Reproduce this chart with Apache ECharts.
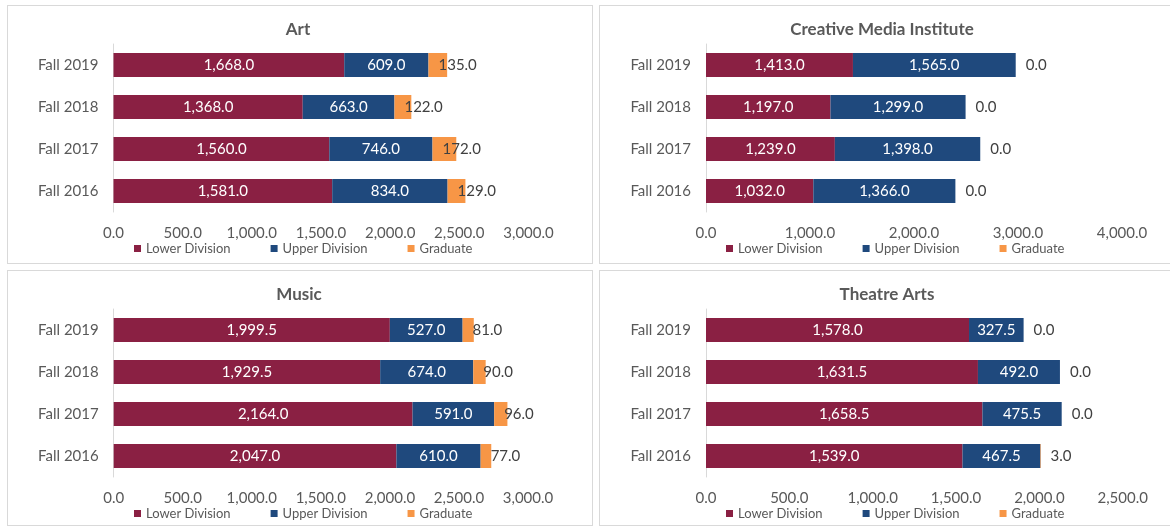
<!DOCTYPE html>
<html>
<head>
<meta charset="utf-8">
<script src="https://cdn.jsdelivr.net/npm/echarts@6/dist/echarts.min.js"></script>
<style>
  html, body { margin: 0; padding: 0; background: #ffffff; width: 1170px; height: 527px; overflow: hidden; }
  .panel { position: absolute; box-sizing: border-box; border: 1px solid #D9D9D9; background: #fff; }
  .panel > div { width: 100%; height: 100%; }
</style>
</head>
<body>
<div class="panel" id="p-art" style="left:7px;top:5px;width:586px;height:259px;"><div id="c-art"></div></div>
<div class="panel" id="p-cmi" style="left:599px;top:5px;width:586px;height:259px;"><div id="c-cmi"></div></div>
<div class="panel" id="p-music" style="left:7px;top:270px;width:586px;height:256px;"><div id="c-music"></div></div>
<div class="panel" id="p-theatre" style="left:599px;top:270px;width:586px;height:256px;"><div id="c-theatre"></div></div>
<script>
// Enrollment by term and level, per department
const categories = ['Fall 2016', 'Fall 2017', 'Fall 2018', 'Fall 2019'];
const seriesNames = ['Lower Division', 'Upper Division', 'Graduate'];

const artLower = [1581, 1560, 1368, 1668];
const artUpper = [834, 746, 663, 609];
const artGrad = [129, 172, 122, 135];

const cmiLower = [1032, 1239, 1197, 1413];
const cmiUpper = [1366, 1398, 1299, 1565];
const cmiGrad = [0, 0, 0, 0];

const musicLower = [2047, 2164, 1929.5, 1999.5];
const musicUpper = [610, 591, 674, 527];
const musicGrad = [77, 96, 90, 81];

const theatreLower = [1539, 1658.5, 1631.5, 1578];
const theatreUpper = [467.5, 475.5, 492, 327.5];
const theatreGrad = [3, 0, 0, 0];

const COLORS = ['#8A2043', '#1F497D', '#F79646'];
const FONT = 'Lato, "Open Sans", sans-serif';
const TEXT = '#595959';

function fmt(v) {
  return Number(v).toLocaleString('en-US', { minimumFractionDigits: 1, maximumFractionDigits: 1 });
}

function buildOption(cfg) {
  const values = [cfg.lower, cfg.upper, cfg.grad];
  return {
    animation: false,
    textStyle: { fontFamily: FONT },
    title: {
      text: cfg.title,
      left: cfg.titleX,
      top: 14,
      textAlign: 'center',
      padding: 0,
      textStyle: { fontFamily: FONT, fontSize: 17, fontWeight: 'bold', color: TEXT, lineHeight: 20 }
    },
    legend: {
      left: 126,
      top: 236,
      padding: 0,
      itemWidth: 7,
      itemHeight: 7,
      itemGap: 40,
      icon: 'rect',
      selectedMode: false,
      data: seriesNames,
      textStyle: { fontFamily: FONT, fontSize: 13, color: TEXT }
    },
    grid: { left: cfg.gridLeft, top: 38, width: cfg.gridWidth, height: 168, containLabel: false },
    xAxis: {
      type: 'value',
      min: 0,
      max: cfg.max,
      interval: cfg.interval,
      axisLine: { show: false },
      axisTick: { show: false },
      splitLine: { show: false },
      axisLabel: { color: TEXT, fontFamily: FONT, fontSize: 15, margin: 14, formatter: fmt }
    },
    yAxis: {
      type: 'category',
      data: categories,
      axisLine: { show: true, lineStyle: { color: '#D9D9D9', width: 1 } },
      axisTick: { show: false },
      axisLabel: { color: TEXT, fontFamily: FONT, fontSize: 15, margin: 15 }
    },
    series: seriesNames.map((name, i) => ({
      name: name,
      type: 'bar',
      stack: 'total',
      barWidth: 24,
      data: values[i],
      itemStyle: { color: COLORS[i] },
      label: i < 2
        ? { show: true, position: 'inside', color: '#ffffff', fontFamily: FONT, fontSize: 15, formatter: p => fmt(p.value) }
        : { show: true, position: 'insideLeft', distance: 10, color: '#404040', fontFamily: FONT, fontSize: 15, formatter: p => fmt(p.value) }
    }))
  };
}

const panels = [
  { id: 'c-art', title: 'Art', titleX: 290, lower: artLower, upper: artUpper, grad: artGrad, max: 3000, interval: 500, gridLeft: 105.5, gridWidth: 415 },
  { id: 'c-cmi', title: 'Creative Media Institute', titleX: 282, lower: cmiLower, upper: cmiUpper, grad: cmiGrad, max: 4000, interval: 1000, gridLeft: 106, gridWidth: 416 },
  { id: 'c-music', title: 'Music', titleX: 291, lower: musicLower, upper: musicUpper, grad: musicGrad, max: 3000, interval: 500, gridLeft: 105.7, gridWidth: 414.3 },
  { id: 'c-theatre', title: 'Theatre Arts', titleX: 287, lower: theatreLower, upper: theatreUpper, grad: theatreGrad, max: 2500, interval: 500, gridLeft: 106, gridWidth: 416.7 }
];

panels.forEach(cfg => {
  const chart = echarts.init(document.getElementById(cfg.id), null, { renderer: 'canvas' });
  chart.setOption(buildOption(cfg));
});
</script>
</body>
</html>
